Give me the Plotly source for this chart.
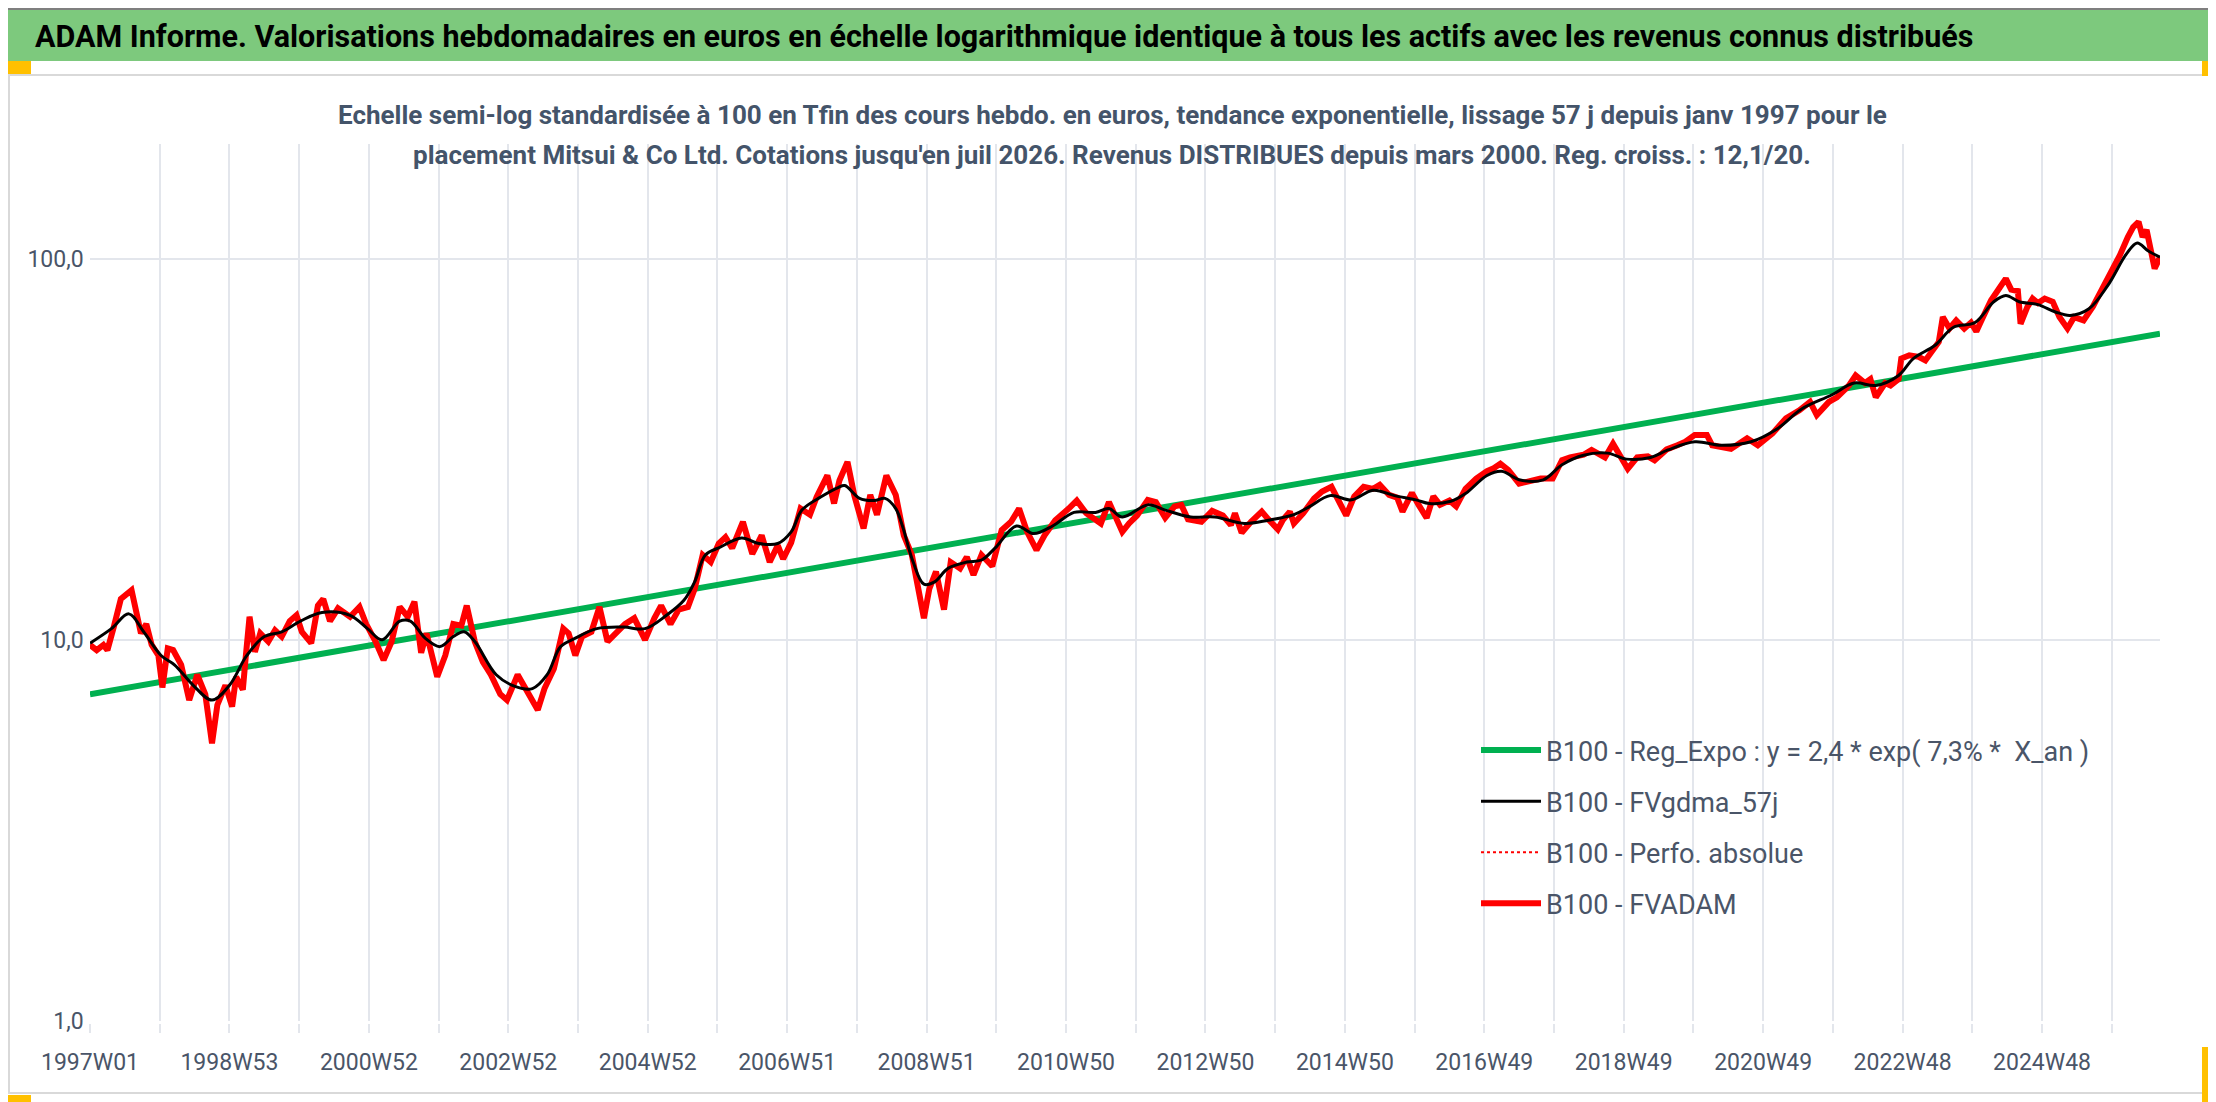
import plotly.graph_objects as go

W, H = 2216, 1102
L, R, T, B = 82, 2152, 136, 1013

# ---------------- data ----------------
red_weeks = [0, 5, 10, 13, 18, 23, 31, 34, 38, 42, 46, 51, 54, 58, 62, 68, 74, 80, 86, 91,
             95, 101, 106, 109, 114, 116, 119, 123, 127, 133, 138, 143, 149, 154, 158, 165,
             170, 174, 179, 185, 194, 201, 206, 213, 219, 225, 231, 237, 242, 247, 251, 259,
             265, 271, 277, 281, 287, 293, 299, 306, 311, 319, 327, 334, 339, 346, 353, 357,
             362, 367, 374, 380, 386, 393, 399, 406, 414, 421, 426, 433, 439, 446, 451, 457,
             463, 469, 474, 479, 487, 494, 501, 507, 513, 517, 523, 530, 537, 542, 550, 555,
             559, 565, 570, 577, 582, 587, 594, 601, 607, 613, 617, 622, 626, 631, 637, 642,
             649, 654, 659, 665, 673, 680, 687, 693, 699, 706, 712, 720, 730, 736, 743, 754,
             760, 765, 770, 775, 781, 789, 795, 802, 809, 814, 819, 829, 837, 845, 851, 854,
             859, 866, 874, 879, 886, 890, 895, 898, 905, 913, 919, 926, 931, 937, 943, 950,
             957, 962, 969, 975, 979, 986, 991, 997, 1002, 1007, 1014, 1019, 1026, 1034, 1042,
             1047, 1052, 1058, 1066, 1074, 1082, 1091, 1098, 1104, 1114, 1120, 1130, 1136,
             1142, 1147, 1154, 1162, 1167, 1176, 1184, 1190, 1197, 1206, 1210, 1224, 1236,
             1244, 1255, 1265, 1275, 1283, 1288, 1297, 1303, 1312, 1317, 1324, 1328, 1332,
             1339, 1343, 1349, 1351, 1357, 1364, 1369, 1373, 1379, 1382, 1387, 1392, 1398,
             1403, 1407, 1412, 1418, 1424, 1429, 1433, 1438, 1440, 1445, 1449, 1453, 1458,
             1464, 1469, 1475, 1480, 1487, 1494, 1501, 1508, 1514, 1520, 1524, 1528, 1531,
             1534, 1538, 1540, 1544]
fvadam = [9.7, 9.4, 9.7, 9.4, 10.9, 12.8, 13.5, 12.1, 10.4, 11.0, 9.7, 9.1, 7.5, 9.5, 9.4,
          8.6, 6.95, 8.1, 7.2, 5.35, 6.75, 7.6, 6.68, 8.0, 7.4, 8.9, 11.5, 9.3, 10.4, 9.9,
          10.6, 10.2, 11.2, 11.6, 10.5, 9.8, 12.3, 12.8, 11.2, 12.1, 11.5, 12.2, 11.0, 9.9,
          8.85, 9.9, 12.2, 11.5, 12.6, 9.25, 10.4, 8.0, 9.1, 11.0, 10.9, 12.3, 9.9, 8.75, 8.1,
          7.2, 6.95, 8.1, 7.25, 6.55, 7.45, 8.4, 10.7, 10.4, 9.1, 10.2, 10.5, 12.2, 9.9, 10.5,
          11.0, 11.4, 10.0, 11.4, 12.3, 11.0, 12.0, 12.2, 13.6, 16.7, 16.0, 17.9, 18.6, 17.4,
          20.4, 16.8, 18.8, 16.0, 17.7, 16.3, 18.0, 22.1, 21.3, 23.7, 27.0, 22.8, 26.2, 29.3,
          24.0, 19.6, 24.0, 21.3, 27.0, 24.0, 18.8, 16.7, 13.9, 11.4, 13.6, 15.1, 12.0, 16.0,
          15.4, 16.5, 14.8, 16.7, 15.6, 19.4, 20.4, 22.1, 19.2, 17.2, 18.8, 20.6, 22.1, 23.2,
          21.5, 20.2, 23.0, 21.2, 19.2, 20.2, 21.2, 23.3, 23.0, 20.9, 22.4, 22.6, 20.7, 20.4,
          21.8, 21.2, 20.0, 21.5, 19.1, 20.4, 21.7, 20.7, 19.5, 20.7, 21.7, 20.2, 21.5, 23.5,
          24.5, 25.2, 23.2, 21.2, 23.8, 25.2, 24.9, 25.5, 24.0, 23.6, 21.7, 24.3, 22.6, 20.9,
          23.8, 22.6, 23.2, 22.4, 24.9, 26.5, 27.7, 28.2, 29.0, 27.9, 25.7, 26.1, 26.5, 26.5,
          29.6, 30.1, 30.6, 31.5, 30.1, 32.7, 30.3, 28.1, 30.1, 30.3, 29.6, 31.6, 32.4, 33.1,
          34.5, 34.5, 32.4, 31.7, 33.8, 32.4, 34.8, 38.1, 40.0, 42.1, 38.9, 42.1, 43.3, 46.5,
          49.4, 47.2, 48.3, 43.3, 47.2, 46.5, 48.3, 54.7, 55.8, 55.3, 54.1, 56.3, 60.5, 70.3,
          65.6, 68.9, 65.6, 68.0, 64.4, 70.3, 77.8, 83.5, 88.7, 83.0, 82.3, 67.5, 74.6, 78.6,
          76.5, 78.6, 77.1, 70.3, 65.6, 70.3, 68.9, 75.0, 83.5, 91.3, 102, 114, 121, 125, 114,
          119, 99, 94.2, 101]

smooth_weeks = [0, 16, 29, 40, 53, 63, 77, 91, 104, 117, 130, 143, 157, 173, 194, 207, 218,
                231, 239, 250, 261, 271, 279, 287, 303, 317, 330, 341, 351, 362, 378, 398, 414,
                430, 443, 451, 459, 470, 486, 499, 513, 523, 531, 545, 558, 563, 574, 585, 593,
                601, 606, 614, 622, 630, 640, 654, 665, 675, 691, 704, 718, 734, 750, 760, 770,
                789, 802, 821, 839, 861, 879, 898, 909, 925, 941, 957, 973, 989, 999, 1015,
                1026, 1042, 1053, 1066, 1084, 1098, 1114, 1132, 1146, 1164, 1177, 1197, 1217,
                1239, 1258, 1277, 1299, 1316, 1332, 1349, 1360, 1376, 1390, 1406, 1420, 1429,
                1439, 1453, 1466, 1477, 1491, 1505, 1519, 1527, 1535, 1544]
fvgdma_57j = [9.8, 10.7, 11.7, 10.5, 9.1, 8.6, 7.6, 6.95, 7.6, 9.1, 10.2, 10.5, 11.2, 11.8,
              11.6, 10.7, 10.0, 11.2, 11.2, 10.1, 9.6, 10.2, 10.5, 9.9, 8.1, 7.55, 7.45, 8.1,
              9.6, 10.1, 10.7, 10.8, 10.7, 11.6, 12.7, 14.2, 16.7, 17.5, 18.5, 17.9, 17.9,
              19.2, 21.9, 23.7, 25.1, 25.4, 23.5, 23.2, 23.5, 22.1, 19.9, 16.0, 14.0, 14.2,
              15.4, 16.0, 16.2, 17.4, 19.9, 19.0, 19.9, 21.6, 21.6, 22.1, 21.0, 22.6, 21.9,
              21.0, 21.0, 20.2, 20.6, 21.3, 22.3, 23.9, 23.3, 24.7, 23.9, 23.3, 22.8, 23.1,
              24.2, 27.0, 27.7, 26.3, 26.3, 28.8, 30.5, 30.9, 29.8, 30.1, 31.5, 33.1, 32.4,
              33.1, 35.7, 40.4, 43.9, 47.2, 46.5, 49.4, 54.7, 59.2, 66.1, 68.0, 77.1, 80.1,
              77.1, 75.8, 72.5, 71.0, 73.9, 85.0, 103, 110, 105, 101]

reg_weeks = [0, 1544]
reg_expo = [7.2, 63.6]

x_tick_weeks = [0, 104, 208, 312, 416, 520, 624, 728, 832, 936, 1040, 1144, 1248, 1352, 1456]
x_tick_labels = ["1997W01", "1998W53", "2000W52", "2002W52", "2004W52", "2006W51",
                 "2008W51", "2010W50", "2012W50", "2014W50", "2016W49", "2018W49",
                 "2020W49", "2022W48", "2024W48"]
y_tick_values = [1, 10, 100]
y_tick_labels = ["1,0", "10,0", "100,0"]

legend_names = ["B100 - Reg_Expo : y = 2,4 * exp( 7,3% *  X_an )",
                "B100 - FVgdma_57j",
                "B100 - Perfo. absolue",
                "B100 - FVADAM"]

title_text = ("ADAM Informe. Valorisations hebdomadaires en euros en échelle logarithmique "
              "identique à tous les actifs avec les revenus connus distribués")
sub1 = ("Echelle semi-log standardisée à 100 en Tfin des cours hebdo. en euros, tendance "
        "exponentielle, lissage 57 j depuis janv 1997 pour le")
sub2 = ("placement Mitsui &amp; Co Ltd. Cotations jusqu'en juil 2026. Revenus DISTRIBUES "
        "depuis mars 2000. Reg. croiss. : 12,1/20.")

# ---------------- styling ----------------
FONT = "Roboto, Liberation Sans, sans-serif"
TXT = "#4A5568"
GRID = "#E3E6EC"


def px(xp):
    return (xp - L) / (R - L)


def py(yp):
    return (B - yp) / (B - T)


fig = go.Figure()
# traces added in legend order; zorder controls drawing order
fig.add_trace(go.Scatter(x=reg_weeks, y=reg_expo, mode="lines", name=legend_names[0],
                         line=dict(color="#00B050", width=6), zorder=0,
                         legendgroup="a"))
fig.add_trace(go.Scatter(x=smooth_weeks, y=fvgdma_57j, mode="lines", name=legend_names[1],
                         line=dict(color="#000000", width=3, shape="spline"),
                         zorder=3, legendgroup="b"))
fig.add_trace(go.Scatter(x=red_weeks, y=fvadam, mode="lines", name=legend_names[2],
                         line=dict(color="#FF0000", width=2, dash="dot"), zorder=1,
                         legendgroup="c"))
fig.add_trace(go.Scatter(x=red_weeks, y=fvadam, mode="lines", name=legend_names[3],
                         line=dict(color="#FF0000", width=6), zorder=2,
                         legendgroup="d"))

shapes = [
    # header band
    dict(type="rect", xref="paper", yref="paper", x0=px(0), x1=px(W), y0=py(53), y1=py(2),
         fillcolor="#7DC97D", line=dict(width=0), layer="below"),
    dict(type="line", xref="paper", yref="paper", x0=px(0), x1=px(W), y0=py(1), y1=py(1),
         line=dict(color="#7F7F7F", width=2)),
    # chart border
    dict(type="rect", xref="paper", yref="paper", x0=px(1), x1=px(2210), y0=py(1085),
         y1=py(67), line=dict(color="#D9D9D9", width=2), layer="below"),
    # selection handles
    dict(type="rect", xref="paper", yref="paper", x0=px(0), x1=px(23), y0=py(66), y1=py(53),
         fillcolor="#FFC000", line=dict(width=0)),
    dict(type="rect", xref="paper", yref="paper", x0=px(2194), x1=px(2216), y0=py(68),
         y1=py(53), fillcolor="#FFC000", line=dict(width=0)),
    dict(type="rect", xref="paper", yref="paper", x0=px(0), x1=px(23), y0=py(1101),
         y1=py(1087), fillcolor="#FFC000", line=dict(width=0)),
    dict(type="rect", xref="paper", yref="paper", x0=px(2194), x1=px(2216), y0=py(1101),
         y1=py(1039), fillcolor="#FFC000", line=dict(width=0)),
]

annotations = [
    dict(text="<b>" + sub1 + "</b>", xref="paper", yref="paper", x=px(1104), y=py(107),
         xanchor="center", yanchor="middle", showarrow=False,
         font=dict(family=FONT, size=26, color="#44546A")),
    dict(text="<b>" + sub2 + "</b>", xref="paper", yref="paper", x=px(1104), y=py(147),
         xanchor="center", yanchor="middle", showarrow=False,
         font=dict(family=FONT, size=26, color="#44546A")),
]

fig.update_layout(
    width=W, height=H, autosize=False,
    margin=dict(l=L, r=W - R, t=T, b=H - B, pad=0),
    paper_bgcolor="white", plot_bgcolor="white",
    title=dict(text=title_text, xref="container", yref="container", x=27 / W,
               y=1 - 28 / H, xanchor="left", yanchor="middle",
               font=dict(family=FONT, size=30.5, color="#000000", weight="bold")),
    font=dict(family=FONT, color=TXT),
    showlegend=True,
    legend=dict(x=px(1468), y=py(718), xanchor="left", yanchor="top",
                bgcolor="rgba(0,0,0,0)", font=dict(family=FONT, size=27, color=TXT),
                traceorder="grouped", tracegroupgap=13, itemwidth=60),
    shapes=shapes,
    annotations=annotations,
    xaxis=dict(type="linear", range=[0, 1544], tickmode="array", tickvals=x_tick_weeks,
               ticktext=x_tick_labels, showgrid=True, gridcolor=GRID, gridwidth=2,
               ticks="outside", ticklen=9, tickcolor=GRID, tickwidth=2,
               minor=dict(dtick=52, tick0=0, showgrid=True, gridcolor=GRID, gridwidth=2,
                          ticks="outside", ticklen=9, tickcolor=GRID, tickwidth=2),
               showline=True, linecolor="#D9D9D9", linewidth=3, zeroline=False,
               tickfont=dict(family=FONT, size=23, color=TXT), ticklabelstandoff=9),
    yaxis=dict(type="log", range=[0, 2.301], tickmode="array", tickvals=y_tick_values,
               ticktext=y_tick_labels, showgrid=True, gridcolor=GRID, gridwidth=2,
               showline=True, linecolor="#4472C4", linewidth=1.5, ticks="",
               zeroline=False, tickfont=dict(family=FONT, size=23, color=TXT)),
)

fig.write_html("out.html")
